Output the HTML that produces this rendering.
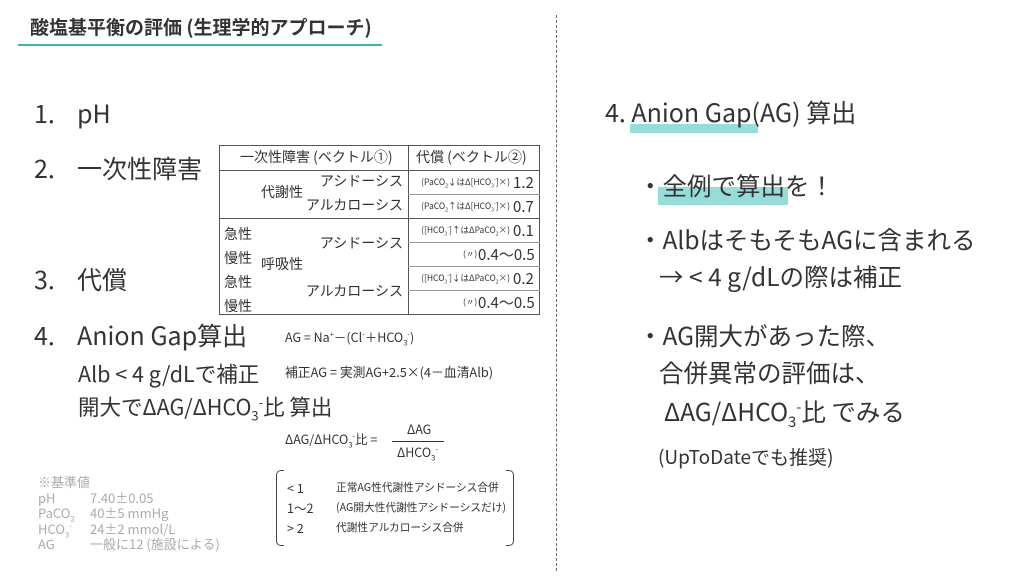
<!DOCTYPE html>
<html><head><meta charset="utf-8"><style>
*{margin:0;padding:0;box-sizing:border-box}
body{width:1024px;height:576px;background:#fff;position:relative;overflow:hidden;font-family:"Liberation Sans","Noto Sans CJK JP",sans-serif;color:#333}
.a{position:absolute;white-space:nowrap;line-height:1}
.j{font-family:"Noto Sans CJK JP","Liberation Sans",sans-serif}
.hl{position:absolute;background:#96dcd8}
sub,sup{font-size:60%;line-height:0}
.t{position:absolute;border-color:#555;border-style:solid;border-width:0}
.g{color:#aaa}
</style></head><body>
<div class="a j" style="left:30px;top:17px;font-size:19px;font-weight:bold;color:#333">酸塩基平衡の評価 (生理学的アプローチ)</div>
<div style="position:absolute;left:18px;top:44px;width:364px;height:2px;background:#3cb4b4"></div>
<div style="position:absolute;left:556px;top:15px;height:556px;border-left:1.5px dashed #666"></div>

<div class="a j" style="left:34px;top:101px;font-size:25px">1.</div><div class="a j" style="left:77px;top:101px;font-size:25px">pH</div>
<div class="a j" style="left:34px;top:156px;font-size:25px">2.</div><div class="a j" style="left:77px;top:156px;font-size:25px">一次性障害</div>
<div class="a j" style="left:34px;top:267px;font-size:25px">3.</div><div class="a j" style="left:77px;top:267px;font-size:25px">代償</div>
<div class="a j" style="left:34px;top:323px;font-size:25px">4.</div><div class="a j" style="left:77px;top:323px;font-size:25px">Anion Gap算出</div>
<div class="a j" style="left:78px;top:363px;font-size:21.5px">Alb &lt; 4 g/dLで補正</div>
<div class="a j" style="left:78px;top:396px;font-size:21.5px">開大でΔAG/ΔHCO<sub>3</sub><sup>-</sup>比 算出</div>

<div class="a j" style="left:285px;top:331px;font-size:12.5px">AG = Na<sup>+</sup>－(Cl<sup>-</sup>＋HCO<sub>3</sub><sup>-</sup>)</div>
<div class="a j" style="left:285px;top:366px;font-size:12.8px">補正AG = 実測AG+2.5×(4－血清Alb)</div>
<div class="a j" style="left:285px;top:433px;font-size:12.5px">ΔAG/ΔHCO<sub>3</sub><sup>-</sup>比 =</div>
<div class="a j" style="left:407px;top:423px;font-size:12.5px">ΔAG</div>
<div style="position:absolute;left:392px;top:441px;width:52px;height:1px;background:#333"></div>
<div class="a j" style="left:397px;top:446px;font-size:12.5px">ΔHCO<sub>3</sub><sup>-</sup></div>

<div style="position:absolute;left:276px;top:470px;width:8px;height:76px;border:1.5px solid #444;border-right:none;border-radius:5px 0 0 5px"></div>
<div style="position:absolute;left:506px;top:470px;width:8px;height:76px;border:1.5px solid #444;border-left:none;border-radius:0 5px 5px 0"></div>
<div class="a j" style="left:287px;top:482px;font-size:12.5px">&lt; 1</div>
<div class="a j" style="left:287px;top:502px;font-size:12.5px">1〜2</div>
<div class="a j" style="left:287px;top:522px;font-size:12.5px">&gt; 2</div>
<div class="a j" style="left:336px;top:483px;font-size:10.7px">正常AG性代謝性アシドーシス合併</div>
<div class="a j" style="left:336px;top:503px;font-size:10.7px">(AG開大性代謝性アシドーシスだけ)</div>
<div class="a j" style="left:336px;top:523px;font-size:10.7px">代謝性アルカローシス合併</div>

<div class="a j g" style="left:38px;top:474px;font-size:13px;line-height:15.5px">※基準値<br>pH<br>PaCO<sub>2</sub><br>HCO<sub>3</sub><sup>-</sup><br>AG</div>
<div class="a j g" style="left:90px;top:489.5px;font-size:13px;line-height:15.5px">7.40±0.05<br>40±5 mmHg<br>24±2 mmol/L<br>一般に12 (施設による)</div>

<!-- table -->
<div class="t" style="left:219px;top:145px;width:321px;height:170px;border-width:1px"></div>
<div class="t" style="left:408px;top:145px;height:170px;border-left-width:1px"></div>
<div class="t" style="left:219px;top:170px;width:321px;border-top-width:1px"></div>
<div class="t" style="left:219px;top:218px;width:321px;border-top-width:1px"></div>
<div class="t" style="left:408px;top:194px;width:132px;border-top-width:1px;border-color:#999"></div>
<div class="t" style="left:408px;top:242px;width:132px;border-top-width:1px;border-color:#999"></div>
<div class="t" style="left:408px;top:266px;width:132px;border-top-width:1px;border-color:#999"></div>
<div class="t" style="left:408px;top:290px;width:132px;border-top-width:1px;border-color:#999"></div>
<div class="a j" style="left:240px;top:150px;font-size:14px">一次性障害 (ベクトル①)</div>
<div class="a j" style="left:416px;top:150px;font-size:14px">代償 (ベクトル②)</div>
<div class="a j" style="left:261px;top:185px;font-size:14px">代謝性</div>
<div class="a j" style="right:621px;top:174px;font-size:14px">アシドーシス</div>
<div class="a j" style="right:621px;top:198px;font-size:14px">アルカローシス</div>
<div class="a j" style="left:224px;top:222px;font-size:14px;line-height:24px">急性<br>慢性<br>急性<br>慢性</div>
<div class="a j" style="left:261px;top:257px;font-size:14px">呼吸性</div>
<div class="a j" style="right:621px;top:236px;font-size:14px">アシドーシス</div>
<div class="a j" style="right:621px;top:284px;font-size:14px">アルカローシス</div>
<div class="a j" style="right:514px;top:178px;font-size:8.5px">(PaCO<sub>2</sub>↓はΔ[HCO<sub>3</sub><sup>-</sup>]×)</div>
<div class="a j" style="left:513px;top:175px;font-size:15px">1.2</div>
<div class="a j" style="right:514px;top:202px;font-size:8.5px">(PaCO<sub>2</sub>↑はΔ[HCO<sub>3</sub><sup>-</sup>]×)</div>
<div class="a j" style="left:513px;top:199px;font-size:15px">0.7</div>
<div class="a j" style="right:514px;top:226px;font-size:8.5px">([HCO<sub>3</sub><sup>-</sup>]↑はΔPaCO<sub>2</sub>×)</div>
<div class="a j" style="left:513px;top:223px;font-size:15px">0.1</div>
<div class="a j" style="left:463px;top:250px;font-size:8.5px">(〃)</div>
<div class="a j" style="left:478px;top:247px;font-size:15px">0.4〜0.5</div>
<div class="a j" style="right:514px;top:274px;font-size:8.5px">([HCO<sub>3</sub><sup>-</sup>]↓はΔPaCO<sub>2</sub>×)</div>
<div class="a j" style="left:513px;top:271px;font-size:15px">0.2</div>
<div class="a j" style="left:463px;top:298px;font-size:8.5px">(〃)</div>
<div class="a j" style="left:478px;top:295px;font-size:15px">0.4〜0.5</div>

<!-- right -->
<div class="hl" style="left:630px;top:124px;width:128px;height:9px"></div>
<div class="hl" style="left:658px;top:187px;width:130px;height:18px"></div>
<div class="a j" style="left:605px;top:100px;font-size:25px">4. Anion Gap(AG) 算出</div>
<div class="a j" style="left:638px;top:174px;font-size:24.5px">・全例で算出を！</div>
<div class="a j" style="left:638px;top:228px;font-size:24.5px">・AlbはそもそもAGに含まれる</div>
<div class="a j" style="left:659px;top:265px;font-size:24.5px">→ &lt; 4 g/dLの際は補正</div>
<div class="a j" style="left:638px;top:324px;font-size:24.5px">・AG開大があった際、</div>
<div class="a j" style="left:659px;top:361px;font-size:24.5px">合併異常の評価は、</div>
<div class="a j" style="left:664px;top:400px;font-size:24.5px">ΔAG/ΔHCO<sub>3</sub><sup>-</sup>比 でみる</div>
<div class="a j" style="left:658px;top:447px;font-size:19px">(UpToDateでも推奨)</div>
</body></html>
